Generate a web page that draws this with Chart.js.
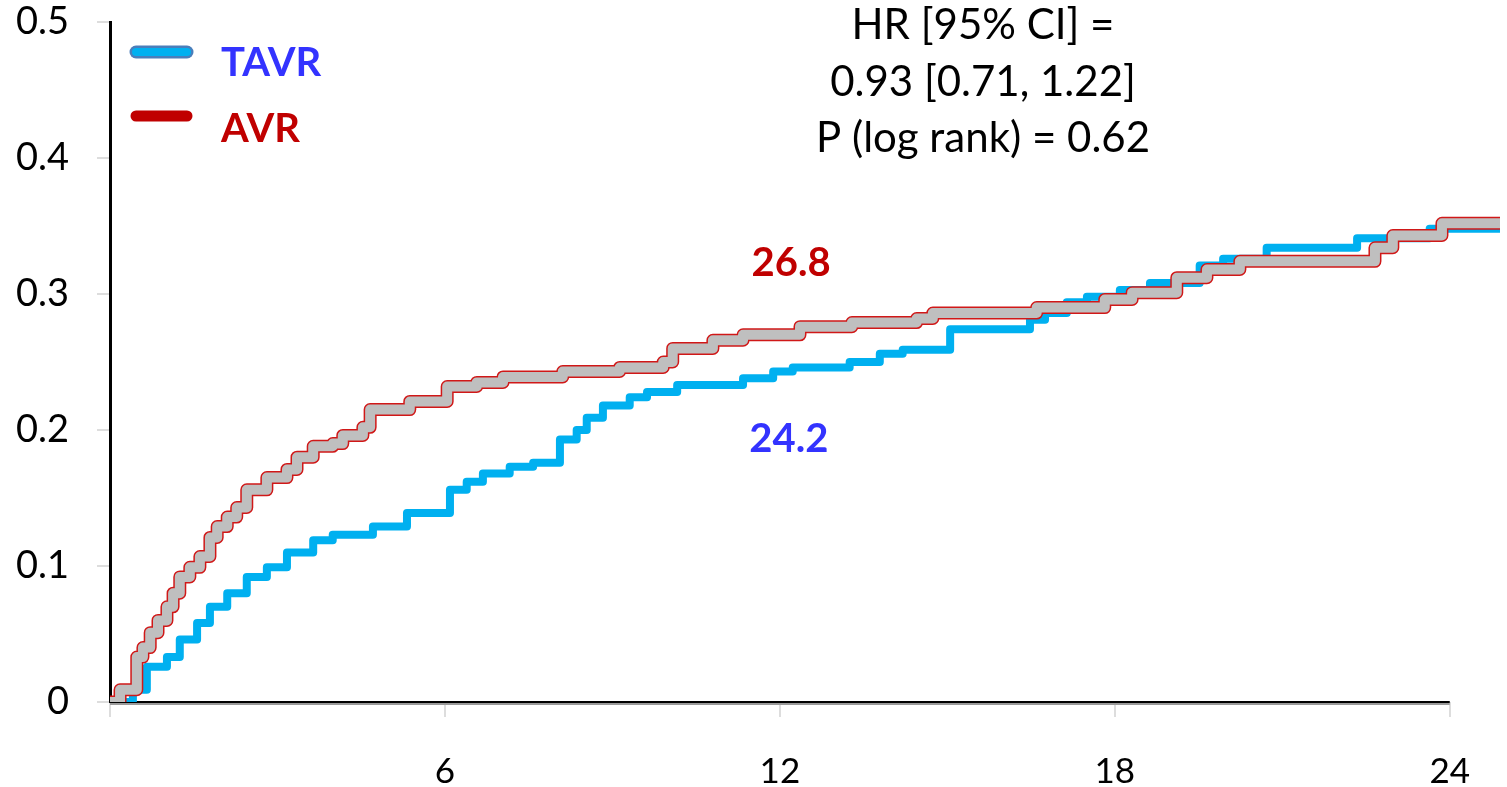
<!DOCTYPE html>
<html>
<head>
<meta charset="utf-8">
<script src="https://cdn.jsdelivr.net/npm/chart.js@4"></script>
<style>
    html, body { margin: 0; padding: 0; background: #fff; }
    #wrap { position: relative; width: 1507px; height: 787px; }
</style>
</head>
<body>
<div id="wrap"><canvas id="km" width="1507" height="787"></canvas></div>
<script>
// cumulative incidence, months vs proportion
var avrMonths = [0, 0.18, 0.48, 0.59, 0.72, 0.86, 1.02, 1.13, 1.25, 1.43, 1.61, 1.79, 1.92, 2.10, 2.27, 2.45, 2.81, 3.17, 3.35, 3.64, 3.99, 4.17, 4.53, 4.66, 5.37, 6.04, 6.57, 7.04, 8.11, 9.13, 9.91, 10.08, 10.80, 11.34, 12.36, 13.29, 14.45, 14.74, 16.60, 17.82, 18.31, 19.11, 19.65, 20.24, 22.66, 22.98, 23.86, 24.9];
var avrRisk = [0, 0.009, 0.033, 0.040, 0.051, 0.060, 0.070, 0.080, 0.092, 0.099, 0.107, 0.121, 0.129, 0.136, 0.143, 0.156, 0.165, 0.171, 0.180, 0.188, 0.190, 0.196, 0.202, 0.215, 0.221, 0.232, 0.235, 0.239, 0.243, 0.246, 0.250, 0.260, 0.266, 0.270, 0.276, 0.279, 0.282, 0.286, 0.290, 0.296, 0.301, 0.312, 0.318, 0.324, 0.334, 0.343, 0.352, 0.352];

var tavrMonths = [0, 0.18, 0.41, 0.66, 1.02, 1.25, 1.56, 1.79, 2.10, 2.45, 2.81, 3.17, 3.64, 3.99, 4.71, 5.32, 6.09, 6.39, 6.68, 7.16, 7.58, 8.06, 8.36, 8.54, 8.83, 9.31, 9.62, 10.16, 11.34, 11.88, 12.23, 13.25, 13.79, 14.20, 15.05, 16.48, 16.75, 17.14, 17.50, 18.09, 18.63, 19.52, 19.94, 20.72, 22.34, 23.64, 24.9];
var tavrRisk = [0, 0, 0.009, 0.026, 0.033, 0.046, 0.058, 0.070, 0.080, 0.092, 0.099, 0.110, 0.119, 0.123, 0.129, 0.139, 0.156, 0.162, 0.168, 0.173, 0.176, 0.193, 0.200, 0.209, 0.218, 0.224, 0.228, 0.233, 0.238, 0.243, 0.246, 0.250, 0.256, 0.259, 0.274, 0.281, 0.286, 0.294, 0.298, 0.303, 0.308, 0.321, 0.326, 0.334, 0.341, 0.348, 0.348];

var xTicks = [0, 6, 12, 18, 24];
var yTicks = [0, 0.1, 0.2, 0.3, 0.4, 0.5];
var groupNames = ["TAVR", "AVR"];
var endRates = ["24.2", "26.8"];
var statLines = ["HR [95% CI] =", "0.93 [0.71, 1.22]", "P (log rank) = 0.62"];

var FONT = "Lato, 'Open Sans', sans-serif";

function toPoints(xs, ys) {
    var pts = [];
    for (var i = 0; i < xs.length; i++) {
        pts.push({ x: xs[i], y: ys[i] });
    }
    return pts;
}

// axis line along y = 0, only out to month 24 like the original
var baseline = {
    id: "baseline",
    beforeDatasetsDraw: function (chart) {
        var ctx = chart.ctx;
        var x = chart.scales.x, y = chart.scales.y;
        var y0 = y.getPixelForValue(0);
        ctx.save();
        ctx.lineWidth = 2;
        ctx.strokeStyle = "#000";
        ctx.beginPath();
        ctx.moveTo(x.getPixelForValue(0), y0);
        ctx.lineTo(x.getPixelForValue(24), y0);
        ctx.stroke();
        ctx.strokeStyle = "#9a9a9a";
        ctx.beginPath();
        ctx.moveTo(x.getPixelForValue(0), y0 + 2);
        ctx.lineTo(x.getPixelForValue(24), y0 + 2);
        ctx.stroke();
        ctx.restore();
    }
};

var labels = {
    id: "labels",
    afterDraw: function (chart) {
        var ctx = chart.ctx;
        var x = chart.scales.x, y = chart.scales.y;
        ctx.save();

        // legend swatches
        ctx.lineCap = "round";
        ctx.strokeStyle = "#4A7EBB";
        ctx.lineWidth = 13;
        ctx.beginPath(); ctx.moveTo(136, 52); ctx.lineTo(187, 52); ctx.stroke();
        ctx.strokeStyle = "#00B0F0";
        ctx.lineWidth = 8;
        ctx.beginPath(); ctx.moveTo(136, 52); ctx.lineTo(187, 52); ctx.stroke();
        ctx.strokeStyle = "#C00000";
        ctx.lineWidth = 11;
        ctx.beginPath(); ctx.moveTo(136, 116); ctx.lineTo(187, 116); ctx.stroke();

        ctx.textAlign = "left";
        ctx.textBaseline = "middle";
        ctx.font = "bold 40px " + FONT;
        ctx.fillStyle = "#3333FF";
        ctx.fillText(groupNames[0], 221, 63);
        ctx.fillStyle = "#C00000";
        ctx.fillText(groupNames[1], 221, 129);

        // rates at 2 years
        ctx.textAlign = "center";
        ctx.font = "bold 40px " + FONT;
        ctx.fillStyle = "#C00000";
        ctx.fillText(endRates[1], x.getPixelForValue(12.2), y.getPixelForValue(0.323));
        ctx.fillStyle = "#3333FF";
        ctx.fillText(endRates[0], x.getPixelForValue(12.16), y.getPixelForValue(0.193));

        // hazard ratio block
        ctx.fillStyle = "#000";
        ctx.font = "42px " + FONT;
        ctx.fillText(statLines[0], 983, 25);
        ctx.fillText(statLines[1], 983, 82);
        ctx.fillText(statLines[2], 983, 138);
        ctx.restore();
    }
};

var ctx = document.getElementById("km").getContext("2d");
new Chart(ctx, {
    type: "line",
    data: {
        datasets: [
            {
                label: "AVR",
                data: toPoints(avrMonths, avrRisk),
                stepped: true,
                borderColor: "#BFBFBF",
                borderWidth: 10,
                borderCapStyle: "round",
                borderJoinStyle: "round",
                pointRadius: 0,
                fill: false,
                order: 0
            },
            {
                label: "AVR edge",
                data: toPoints(avrMonths, avrRisk),
                stepped: true,
                borderColor: "#D01818",
                borderWidth: 13,
                borderCapStyle: "round",
                borderJoinStyle: "round",
                pointRadius: 0,
                fill: false,
                order: 1
            },
            {
                label: "TAVR",
                data: toPoints(tavrMonths, tavrRisk),
                stepped: true,
                borderColor: "#00B0F0",
                borderWidth: 8,
                borderCapStyle: "round",
                borderJoinStyle: "round",
                pointRadius: 0,
                fill: false,
                order: 2
            }
        ]
    },
    options: {
        responsive: false,
        animation: false,
        layout: { padding: { top: 22, right: 7, bottom: 0, left: 0 } },
        plugins: {
            legend: { display: false },
            tooltip: { enabled: false }
        },
        scales: {
            x: {
                type: "linear",
                min: 0,
                max: 24.9,
                afterBuildTicks: function (s) {
                    s.ticks = xTicks.map(function (v) { return { value: v }; });
                },
                afterFit: function (s) {
                    s.height = 85;
                    s.paddingLeft = 0;
                    s.paddingRight = 0;
                },
                ticks: {
                    color: "#000",
                    font: { family: FONT, size: 35 },
                    padding: 34,
                    maxRotation: 0,
                    autoSkip: false,
                    callback: function (v) { return v === 0 ? "" : String(v); }
                },
                grid: {
                    drawOnChartArea: false,
                    color: "#dddddd",
                    tickLength: 15,
                    lineWidth: 2
                },
                border: { display: false }
            },
            y: {
                min: 0,
                max: 0.5,
                afterBuildTicks: function (s) {
                    s.ticks = yTicks.map(function (v) { return { value: v }; });
                },
                afterFit: function (s) {
                    s.width = 110;
                    s.paddingTop = 0;
                    s.paddingBottom = 0;
                },
                ticks: {
                    color: "#000",
                    font: { family: FONT, size: 38 },
                    padding: 28,
                    callback: function (v) { return v === 0 ? "0" : v.toFixed(1); }
                },
                grid: {
                    drawOnChartArea: false,
                    color: "#dddddd",
                    tickLength: 13,
                    lineWidth: 2
                },
                border: { display: true, color: "#000", width: 3 }
            }
        }
    },
    plugins: [baseline, labels]
});
</script>
</body>
</html>
